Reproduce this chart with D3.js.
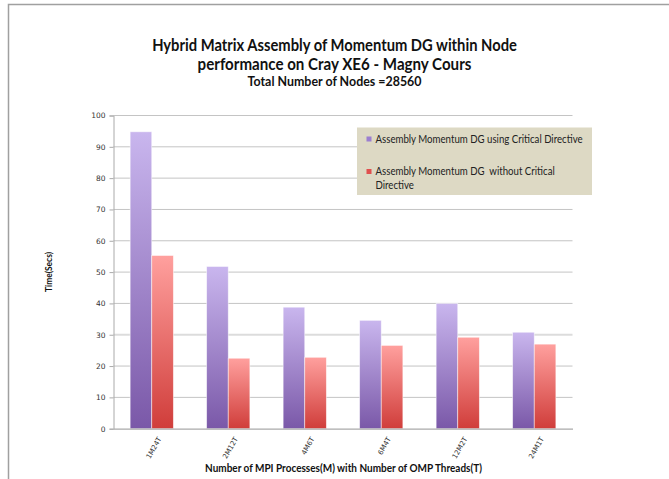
<!DOCTYPE html>
<html>
<head>
<meta charset="utf-8">
<script src="https://cdn.jsdelivr.net/npm/d3@7"></script>
<style>
  html, body { margin: 0; padding: 0; background: #fff; }
  svg { display: block; }
  text { font-family: Lato, "Open Sans", sans-serif; }
</style>
</head>
<body>
<script>
// Configurations (MPI processes x OMP threads)
const categories = ["1M24T", "2M12T", "4M6T", "6M4T", "12M2T", "24M1T"];
// Time in seconds
const withCritical    = [94.8, 51.8, 38.8, 34.6, 40.0, 30.8];
const withoutCritical = [55.3, 22.5, 22.8, 26.6, 29.2, 27.0];
const seriesNames = [
  "Assembly Momentum DG using Critical Directive",
  "Assembly Momentum DG  without Critical Directive"
];
const yTicks = [0, 10, 20, 30, 40, 50, 60, 70, 80, 90, 100];

const W = 669, H = 479;
const plot = { left: 113.5, right: 572.5, top: 115.5, bottom: 428.7 };

const svg = d3.select("body").append("svg")
  .attr("width", W).attr("height", H);

// gradients for the bars
const defs = svg.append("defs");
function grad(id, top, bottom) {
  const g = defs.append("linearGradient").attr("id", id)
    .attr("x1", 0).attr("y1", 0).attr("x2", 0).attr("y2", 1);
  g.append("stop").attr("offset", "0%").attr("stop-color", top);
  g.append("stop").attr("offset", "100%").attr("stop-color", bottom);
}
grad("gPurple", "#c9b6ee", "#7a58a8");
grad("gRed", "#ffa09e", "#d03d3a");

// outer frame (top and left edges)
svg.append("path")
  .attr("d", `M8.5,${H} L8.5,4.5 L${W},4.5`)
  .attr("fill", "none").attr("stroke", "#a0a0a0").attr("stroke-width", 1.5);

// scales
const x0 = d3.scaleBand().domain(categories)
  .range([plot.left, plot.right]).paddingInner(0.435).paddingOuter(0.2175);
const x1 = d3.scaleBand().domain([0, 1]).range([0, x0.bandwidth()]);
const y = d3.scaleLinear().domain([0, 100]).range([plot.bottom, plot.top]);

// gridlines
svg.append("g").selectAll("line").data(yTicks.filter(d => d > 0)).join("line")
  .attr("x1", plot.left).attr("x2", plot.right)
  .attr("y1", d => y(d)).attr("y2", d => y(d))
  .attr("stroke", d => d === 30 ? "#dcdcdc" : "#c4c4c4")
  .attr("stroke-width", d => d === 30 ? 2 : 1);

// y axis
const yAxis = svg.append("g").attr("transform", `translate(${plot.left},0)`)
  .call(d3.axisLeft(y).tickValues(yTicks).tickSize(4).tickPadding(4));
yAxis.select(".domain").attr("stroke", "#aaa");
yAxis.selectAll(".tick line").attr("stroke", "#aaa");
yAxis.selectAll(".tick text").attr("fill", "#333")
  .style("font-family", "'DejaVu Sans', sans-serif").style("font-size", "7.5px");

// bars
const groups = svg.append("g").selectAll("g").data(categories).join("g")
  .attr("transform", d => `translate(${x0(d)},0)`);
groups.append("rect")
  .attr("x", x1(0)).attr("width", x1.bandwidth())
  .attr("y", (d, i) => y(withCritical[i]))
  .attr("height", (d, i) => y(0) - y(withCritical[i]))
  .attr("fill", "url(#gPurple)")
  .attr("stroke", "rgba(255,255,255,0.6)").attr("stroke-width", 0.8);
groups.append("rect")
  .attr("x", x1(1)).attr("width", x1.bandwidth())
  .attr("y", (d, i) => y(withoutCritical[i]))
  .attr("height", (d, i) => y(0) - y(withoutCritical[i]))
  .attr("fill", "url(#gRed)")
  .attr("stroke", "rgba(255,255,255,0.6)").attr("stroke-width", 0.8);

// x axis
const xAxis = svg.append("g").attr("transform", `translate(0,${plot.bottom})`)
  .call(d3.axisBottom(x0).tickSize(0).tickPadding(6));
xAxis.select(".domain").attr("stroke", "#aaa").attr("stroke-width", 1.2);
xAxis.selectAll(".tick text")
  .attr("fill", "#333")
  .style("font-family", "'DejaVu Sans', sans-serif").style("font-size", "7px")
  .attr("text-anchor", "end")
  .attr("dy", "0.3em")
  .attr("transform", "translate(3,6) rotate(-60)");

// size text to a target width, using a slight horizontal squeeze
// so the lettering stays narrow and tall
function fitWidth(sel, target, squeeze) {
  const node = sel.node();
  const fs = parseFloat(sel.style("font-size"));
  const w = node.getComputedTextLength();
  const newFs = fs * target / w / squeeze;
  sel.style("font-size", newFs.toFixed(2) + "px");
  return newFs;
}
// wrap a text in a group that squeezes it horizontally around (cx, cy)
function squeezed(parent, cx, cy, sx, rot) {
  return parent.append("g")
    .attr("transform", `translate(${cx},${cy}) rotate(${rot || 0}) scale(${sx},1)`);
}

// titles
const titleLines = [
  { t: "Hybrid Matrix Assembly of Momentum DG within Node", y: 51, w: 365, fs: 16 },
  { t: "performance on Cray XE6 - Magny Cours", y: 70, w: 274, fs: 16 },
  { t: "Total Number of Nodes =28560", y: 86, w: 174, fs: 11 }
];
const tSq = 0.9;
titleLines.forEach(l => {
  const s = squeezed(svg, 334.5, l.y, tSq).append("text")
    .attr("text-anchor", "middle").attr("font-weight", "bold")
    .attr("fill", "#111").style("font-size", l.fs + "px").text(l.t);
  fitWidth(s, l.w, tSq);
});

// axis titles
const aSq = 0.86;
const yt = squeezed(svg, 52, 272, aSq, -90).append("text")
  .attr("text-anchor", "middle").attr("font-weight", "bold")
  .attr("fill", "#111").style("font-size", "11px").text("Time(Secs)");
fitWidth(yt, 40, aSq);
const xt = squeezed(svg, 343.5, 471.5, aSq).append("text")
  .attr("text-anchor", "middle").attr("font-weight", "bold")
  .attr("fill", "#111").style("font-size", "11px")
  .text("Number of MPI Processes(M) with Number of OMP Threads(T)");
fitWidth(xt, 277, aSq);

// legend
const lg = svg.append("g");
lg.append("rect").attr("x", 357).attr("y", 127.5).attr("width", 235).attr("height", 67.5)
  .attr("fill", "#ddd9c4");
const legendItems = [
  { fill: "#9b7fd0", lines: [seriesNames[0]], y: 142.5 },
  { fill: "#e0504e", lines: ["Assembly Momentum DG  without Critical", "Directive"], y: 175 }
];
const lSq = 0.88;
let legendFs = null;
legendItems.forEach(it => {
  lg.append("rect").attr("x", 366.5).attr("y", it.y - 6).attr("width", 5).attr("height", 5)
    .attr("fill", it.fill);
  it.lines.forEach((ln, j) => {
    const s = squeezed(lg, 375.5, it.y + j * 13.5, lSq).append("text")
      .attr("fill", "#222").style("font-size", (legendFs || 10) + "px")
      .style("white-space", "pre").text(ln);
    if (legendFs === null) legendFs = fitWidth(s, 207, lSq);
  });
});
</script>
</body>
</html>
